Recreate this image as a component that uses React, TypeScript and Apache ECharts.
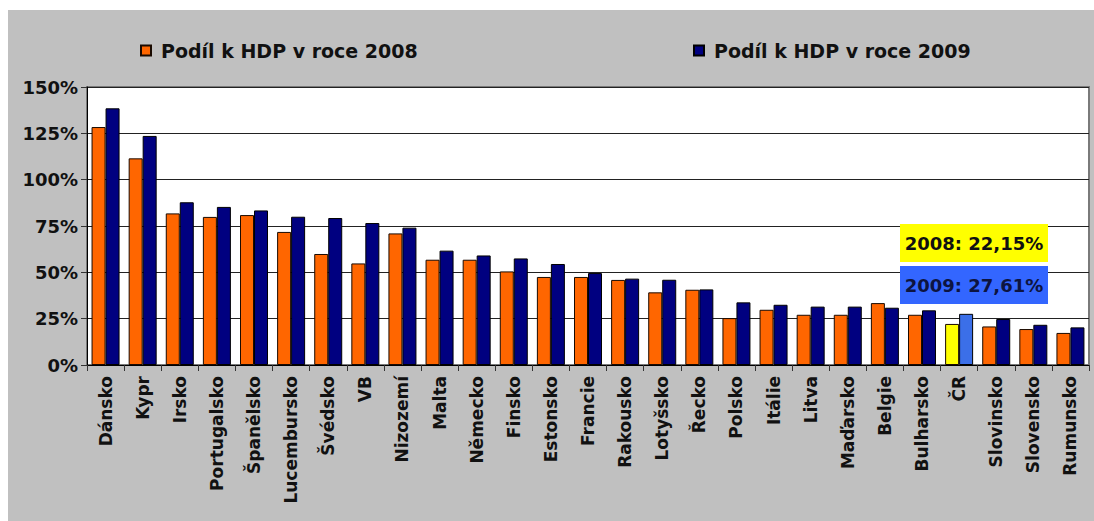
import React, { useEffect, useRef } from "react";
import * as echarts from "echarts";

const categories = [
  "Dánsko", "Kypr", "Irsko", "Portugalsko", "Španělsko", "Lucembursko", "Švédsko", "VB",
  "Nizozemí", "Malta", "Německo", "Finsko", "Estonsko", "Francie", "Rakousko", "Lotyšsko",
  "Řecko", "Polsko", "Itálie", "Litva", "Maďarsko", "Belgie", "Bulharsko", "ČR",
  "Slovinsko", "Slovensko", "Rumunsko",
];
const values2008 = [
  128.4, 111.5, 81.8, 79.9, 80.9, 71.8, 59.9, 54.8,
  71.0, 56.8, 56.8, 50.5, 47.5, 47.5, 45.9, 39.2,
  40.6, 25.3, 29.8, 27.1, 27.1, 33.4, 27.1, 22.15,
  20.8, 19.4, 17.3,
];
const values2009 = [
  138.5, 123.6, 87.8, 85.3, 83.4, 80.0, 79.3, 76.6,
  74.1, 61.7, 59.1, 57.5, 54.5, 49.6, 46.6, 46.0,
  40.8, 33.8, 32.5, 31.5, 31.5, 30.9, 29.5, 27.61,
  24.8, 21.7, 20.3,
];
const yTicks = { min: 0, max: 150, interval: 25 };
const seriesNames = ["Podíl k HDP v roce 2008", "Podíl k HDP v roce 2009"];
const highlight = "ČR";

const FONT = "DejaVu Sans";

export default function App() {
  const ref = useRef<HTMLDivElement>(null);
  useEffect(() => {
    if (!ref.current) return;
    const chart = echarts.init(ref.current, null, { renderer: "svg" });
    const hi = categories.indexOf(highlight);
    const fmt = (v: number) => v.toFixed(2).replace(".", ",");
    const mk = (vals: number[], color: string, hiColor: string) =>
      vals.map((v, i) =>
        i === hi ? { value: v, itemStyle: { color: hiColor } } : { value: v }
      );
    chart.setOption({
      animation: false,
      backgroundColor: "#ffffff",
      graphic: [
        { type: "rect", z: -100, silent: true, shape: { x: 8, y: 10, width: 1086, height: 511 }, style: { fill: "#c0c0c0" } },
        { type: "rect", z: 100, shape: { x: 900, y: 224, width: 148, height: 38 }, style: { fill: "#ffff00" } },
        { type: "rect", z: 100, shape: { x: 900, y: 266, width: 148, height: 38 }, style: { fill: "#3366ff" } },
        {
          type: "text", z: 101, x: 974, y: 243,
          style: { text: `2008: ${fmt(values2008[hi])}%`, fill: "#111", font: `bold 18px ${FONT}`, align: "center", verticalAlign: "middle" },
        },
        {
          type: "text", z: 101, x: 974, y: 285,
          style: { text: `2009: ${fmt(values2009[hi])}%`, fill: "#0d1440", font: `bold 18px ${FONT}`, align: "center", verticalAlign: "middle" },
        },
      ],
      legend: [
        {
          data: [seriesNames[0]], left: 135, top: 36, icon: "rect", itemWidth: 10, itemHeight: 10,
          textStyle: { fontFamily: FONT, fontWeight: "bold", fontSize: 19, color: "#111", padding: [0, 0, 0, 5] },
        },
        {
          data: [seriesNames[1]], left: 688, top: 36, icon: "rect", itemWidth: 10, itemHeight: 10,
          textStyle: { fontFamily: FONT, fontWeight: "bold", fontSize: 19, color: "#111", padding: [0, 0, 0, 5] },
        },
      ],
      grid: {
        left: 87, right: 5, top: 87, bottom: 156, show: true,
        backgroundColor: "#ffffff", borderColor: "#7a7a7a", borderWidth: 2,
      },
      xAxis: {
        type: "category",
        data: categories,
        axisLine: { lineStyle: { color: "#000", width: 1 } },
        axisTick: { show: true, length: 6, lineStyle: { color: "#333" } },
        axisLabel: {
          rotate: 90, interval: 0, margin: 11,
          fontFamily: FONT, fontWeight: "bold", fontSize: 17, color: "#111",
        },
      },
      yAxis: {
        type: "value",
        min: yTicks.min, max: yTicks.max, interval: yTicks.interval,
        axisLine: { show: true, lineStyle: { color: "#000", width: 1 } },
        axisTick: { show: true, length: 6, lineStyle: { color: "#333" } },
        splitLine: { lineStyle: { color: "#222", width: 1 } },
        axisLabel: {
          formatter: "{value}%", margin: 9,
          fontFamily: FONT, fontWeight: "bold", fontSize: 18, color: "#111",
        },
      },
      series: [
        {
          name: seriesNames[0], type: "bar", barWidth: 14, barGap: "0%",
          itemStyle: { color: "#ff6600", borderColor: "#1a0a00", borderWidth: 1 },
          data: mk(values2008, "#ff6600", "#ffff00"),
        },
        {
          name: seriesNames[1], type: "bar", barWidth: 14, barGap: "0%",
          itemStyle: { color: "#000080", borderColor: "#000", borderWidth: 1 },
          data: mk(values2009, "#000080", "#3b6fe8"),
        },
      ],
    });
    return () => chart.dispose();
  }, []);
  return (
    <div
      ref={ref}
      style={{ position: "absolute", left: 0, top: 0, width: 1094, height: 521 }}
    />
  );
}
